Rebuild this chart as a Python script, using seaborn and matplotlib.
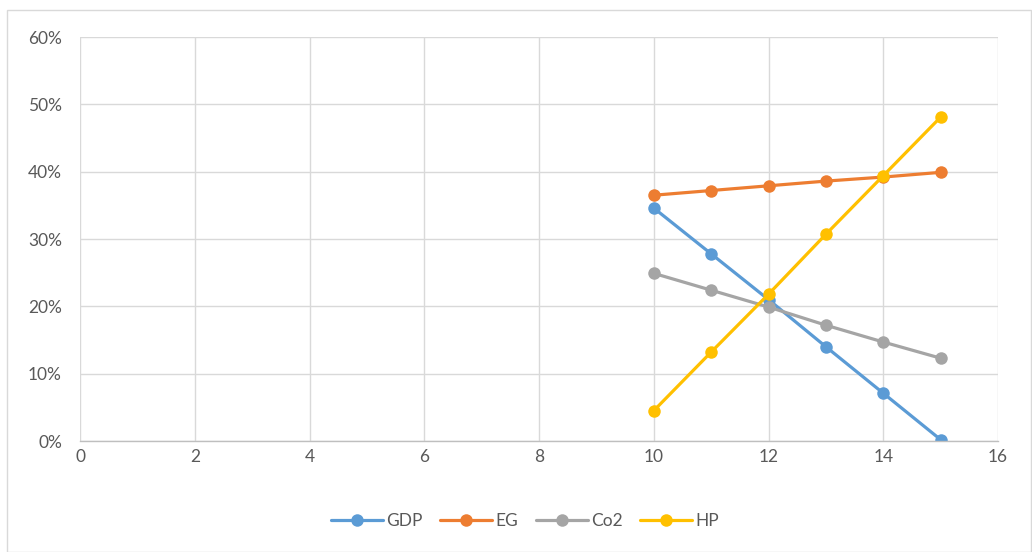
import matplotlib
matplotlib.use("Agg")
import matplotlib.pyplot as plt
import seaborn as sns
import pandas as pd
from matplotlib.ticker import PercentFormatter, MultipleLocator
from matplotlib.patches import Rectangle

# Data
x_vals = [10, 11, 12, 13, 14, 15]
gdp = [0.346, 0.278, 0.210, 0.140, 0.071, 0.002]
eg = [0.365, 0.372, 0.379, 0.386, 0.392, 0.399]
co2 = [0.249, 0.224, 0.199, 0.172, 0.147, 0.123]
hp = [0.045, 0.132, 0.218, 0.307, 0.394, 0.481]
series_names = ["GDP", "EG", "Co2", "HP"]
colors = ["#5B9BD5", "#ED7D31", "#A5A5A5", "#FFC000"]

rows = []
for name, vals in zip(series_names, [gdp, eg, co2, hp]):
    for xv, yv in zip(x_vals, vals):
        rows.append({"x": xv, "y": yv, "series": name})
df = pd.DataFrame(rows)

sns.set_style("white")
plt.rcParams["font.family"] = ["Lato", "DejaVu Sans"]

fig = plt.figure(figsize=(10.32, 5.52), dpi=100)
ax = fig.add_axes([80 / 1032, 1 - 441 / 552, (998 - 80) / 1032, (441 - 37) / 552])

sns.lineplot(data=df, x="x", y="y", hue="series", hue_order=series_names,
             palette=colors, marker="o", markersize=9, markeredgewidth=0,
             linewidth=2.3, ax=ax, legend=True)

ax.set_xlim(0, 16)
ax.set_ylim(0, 0.6)
ax.xaxis.set_major_locator(MultipleLocator(2))
ax.yaxis.set_major_locator(MultipleLocator(0.1))
ax.yaxis.set_major_formatter(PercentFormatter(1.0, decimals=0))
ax.grid(True, color="#D9D9D9", linewidth=1)
ax.set_axisbelow(True)
for s in ["top", "right", "left"]:
    ax.spines[s].set_visible(False)
ax.spines["bottom"].set_color("#BFBFBF")
ax.spines["bottom"].set_linewidth(1)
ax.tick_params(axis="both", length=0, labelsize=12.5, labelcolor="#595959")
ax.tick_params(axis="y", pad=13)
ax.tick_params(axis="x", pad=6)
ax.set_xlabel("")
ax.set_ylabel("")

handles, labels = ax.get_legend_handles_labels()
ax.legend(handles, labels, loc="center", bbox_to_anchor=(525 / 1032, 1 - 521 / 552),
          bbox_transform=fig.transFigure, ncol=4, frameon=False, fontsize=12.5,
          labelcolor="#595959", handlelength=3.0, handletextpad=0.2, columnspacing=1.0)

fig.patches.append(Rectangle((7 / 1032, 0.5 / 552), 1 - 8 / 1032, 1 - 10.5 / 552,
                             transform=fig.transFigure, fill=False,
                             edgecolor="#D9D9D9", linewidth=1))

fig.savefig("out.png", dpi=100, facecolor="white")
